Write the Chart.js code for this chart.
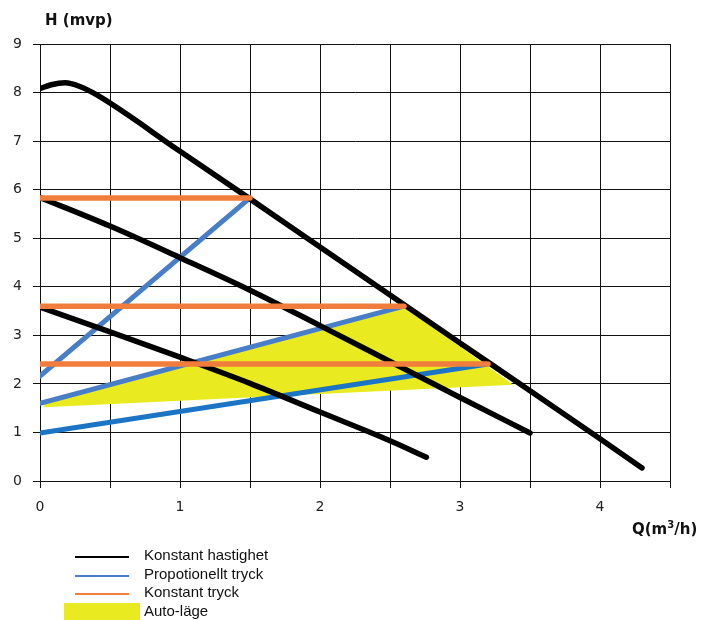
<!DOCTYPE html>
<html>
<head>
<meta charset="utf-8">
<script src="https://cdn.jsdelivr.net/npm/chart.js@4/dist/chart.umd.min.js"></script>
<style>
  body { margin: 0; background: #fff; }
  #wrap { position: relative; width: 704px; height: 620px; overflow: hidden; }
  #myChart { position: absolute; left: 0; top: 0; }
  .axt { position: absolute; font-family: "DejaVu Sans", sans-serif; font-weight: bold; font-size: 15px; color: #111; white-space: nowrap; }
  .lg { position: absolute; left: 144px; font-family: "Liberation Sans", Arial, sans-serif; font-size: 15px; color: #111; line-height: 18px; white-space: nowrap; }
  .lgline { position: absolute; left: 75px; width: 54px; height: 2px; }
</style>
</head>
<body>
<div id="wrap">
  <canvas id="myChart" width="704" height="620"></canvas>
  <div class="axt" style="left:45px; top:11px;">H (mvp)</div>
  <div class="axt" style="left:632px; top:519px;">Q(m<sup style="font-size:10px">3</sup>/h)</div>
  <div id="legend"></div>
</div>
<script>
// series names (legend)
const seriesNames = ['Konstant hastighet', 'Propotionellt tryck', 'Konstant tryck', 'Auto-läge'];

// Konstant hastighet curves  [Q, H]
const hastighet1 = [[0, 8.08], [0.08, 8.16], [0.18, 8.2], [0.28, 8.13], [0.4, 7.96], [1, 6.79], [1.5, 5.81], [2, 4.82], [2.5, 3.83], [3, 2.84], [3.5, 1.86], [4, 0.87], [4.3, 0.27]];
const hastighet2 = [[0, 5.84], [0.5, 5.25], [1, 4.6], [1.5, 3.93], [2, 3.2], [2.5, 2.46], [3, 1.72], [3.5, 0.99]];
const hastighet3 = [[0, 3.58], [0.5, 3.07], [1, 2.55], [1.5, 2.01], [2, 1.42], [2.5, 0.83], [2.76, 0.49]];

// Propotionellt tryck
const prop1 = [[0, 2.16], [1.5, 5.83]];
const prop2 = [[0, 1.6], [2.6, 3.6]];
const prop3 = [[0, 0.99], [3.2, 2.41]];

// Konstant tryck
const konst1 = [[0, 5.83], [1.5, 5.83]];
const konst2 = [[0, 3.6], [2.6, 3.6]];
const konst3 = [[0, 2.41], [3.2, 2.41]];

// Auto-läge area (outline)
const autoArea = [[0.03, 1.52], [0.03, 1.62], [2.6, 3.6], [3.38, 1.98], [0.03, 1.52]];

// axes
const xTicks = [0, 1, 2, 3, 4];
const yTicks = [0, 1, 2, 3, 4, 5, 6, 7, 8, 9];

const black = '#000000';
const blue = 'rgb(72,125,200)';
const blue2 = 'rgb(28,117,196)';
const orange = 'rgb(240,125,60)';
const yellow = 'rgb(234,234,32)';

function pts(arr) {
  return arr.map(p => ({x: p[0], y: p[1]}));
}

function lineSet(data, color, w, order, smooth) {
  return {
    data: pts(data),
    borderColor: color,
    backgroundColor: color,
    borderWidth: w,
    pointRadius: 0,
    fill: false,
    tension: smooth ? 0.4 : 0,
    cubicInterpolationMode: smooth ? 'monotone' : 'default',
    borderCapStyle: 'round',
    borderJoinStyle: 'round',
    order: order
  };
}

const datasets = [
  {
    data: pts(autoArea),
    borderColor: yellow,
    backgroundColor: yellow,
    borderWidth: 0,
    pointRadius: 0,
    fill: 'shape',
    order: 10
  },
  lineSet(prop1, blue, 5, 5),
  lineSet(prop2, blue, 5, 5),
  lineSet(prop3, blue2, 5, 5),
  lineSet(hastighet1, black, 5.5, 4, true),
  lineSet(hastighet2, black, 5.5, 4, true),
  lineSet(hastighet3, black, 5.5, 4, true),
  lineSet(konst1, orange, 5.5, 3),
  lineSet(konst2, orange, 5.5, 3),
  lineSet(konst3, orange, 5.5, 3)
];

const ctx = document.getElementById('myChart').getContext('2d');
const myChart = new Chart(ctx, {
  type: 'line',
  data: { datasets: datasets },
  options: {
    responsive: false,
    animation: false,
    layout: { padding: { left: 0, top: 44, right: 34, bottom: 99 } },
    plugins: { legend: { display: false }, tooltip: { enabled: false } },
    scales: {
      x: {
        type: 'linear',
        min: 0,
        max: 4.5,
        afterFit: s => { s.height = 40; },
        ticks: {
          stepSize: 0.5,
          padding: 11,
          color: '#222',
          font: { family: 'DejaVu Sans', size: 14 },
          maxRotation: 0,
          callback: v => xTicks.includes(v) ? String(v) : ''
        },
        grid: { color: '#111', lineWidth: 1, tickLength: 7, tickColor: '#111' },
        border: { color: '#111', width: 1 }
      },
      y: {
        min: 0,
        max: 9,
        afterFit: s => { s.width = 40; },
        ticks: {
          stepSize: 1,
          padding: 11,
          color: '#222',
          font: { family: 'DejaVu Sans', size: 14 },
          callback: v => yTicks.includes(v) ? String(v) : ''
        },
        grid: { color: '#111', lineWidth: 1, tickLength: 7, tickColor: '#111' },
        border: { color: '#111', width: 1 }
      }
    }
  }
});

// legend below the chart
const legendColors = [black, blue, orange, yellow];
const legendTop = [546, 565, 583, 602];
let html = '';
for (let i = 0; i < seriesNames.length; i++) {
  if (i < 3) {
    html += '<div class="lgline" style="top:' + (legendTop[i] + 10) + 'px;background:' + legendColors[i] + '"></div>';
  } else {
    html += '<div style="position:absolute;left:64px;top:603px;width:76px;height:20px;background:' + legendColors[i] + '"></div>';
  }
  html += '<div class="lg" style="top:' + legendTop[i] + 'px">' + seriesNames[i] + '</div>';
}
document.getElementById('legend').innerHTML = html;
</script>
</body>
</html>
